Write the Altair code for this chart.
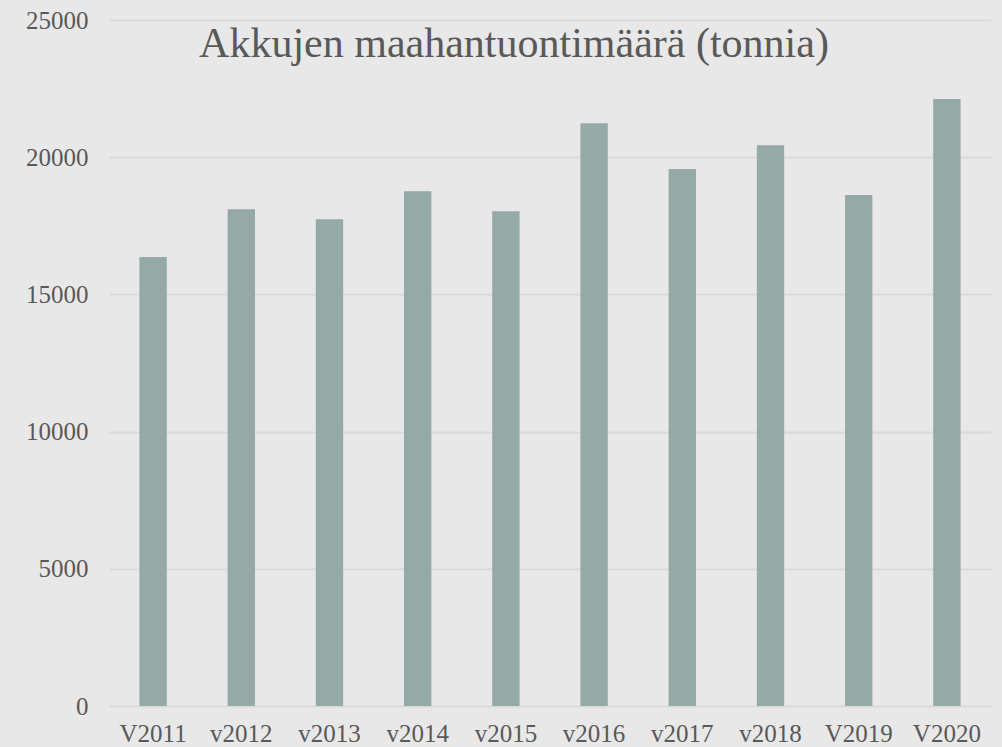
import altair as alt
import pandas as pd

categories = ["V2011", "v2012", "v2013", "v2014", "v2015", "v2016", "v2017", "v2018", "V2019", "V2020"]
values = [16360, 18100, 17740, 18760, 18030, 21240, 19570, 20440, 18620, 22120]
y_ticks = [0, 5000, 10000, 15000, 20000, 25000]
title_text = "Akkujen maahantuontimäärä (tonnia)"

df = pd.DataFrame({"cat": categories, "val": values})
FONT = "Liberation Serif"
TXT = "#595959"

bars = alt.Chart(df).mark_bar(color="#95a9a7").encode(
    x=alt.X("cat:N", sort=categories, title=None,
            scale=alt.Scale(paddingInner=0.69, paddingOuter=0.345),
            axis=alt.Axis(labelAngle=0, labelFont=FONT, labelFontSize=25, labelColor=TXT,
                          labelPadding=15, ticks=False, domain=False, grid=False)),
    y=alt.Y("val:Q", title=None,
            scale=alt.Scale(domain=[0, 25000], nice=False),
            axis=alt.Axis(values=y_ticks, format="d", labelFont=FONT, labelFontSize=25,
                          labelColor=TXT, labelPadding=21, ticks=False, domain=False,
                          grid=True, gridColor="#d9d9d9", gridWidth=2)),
)

title = alt.Chart(pd.DataFrame({"t": [title_text]})).mark_text(
    font=FONT, fontSize=42, color=TXT, baseline="alphabetic", align="center"
).encode(text="t:N", x=alt.value(405), y=alt.value(37))

chart = alt.layer(bars, title).properties(
    width=882, height=686,
    background="#e8e8e8",
    padding={"left": 109, "top": 20, "right": 11, "bottom": 41},
    autosize=alt.AutoSizeParams(type="none"),
).configure_view(stroke=None)

chart.save("out.html", embed_options={"renderer": "svg", "actions": False})
